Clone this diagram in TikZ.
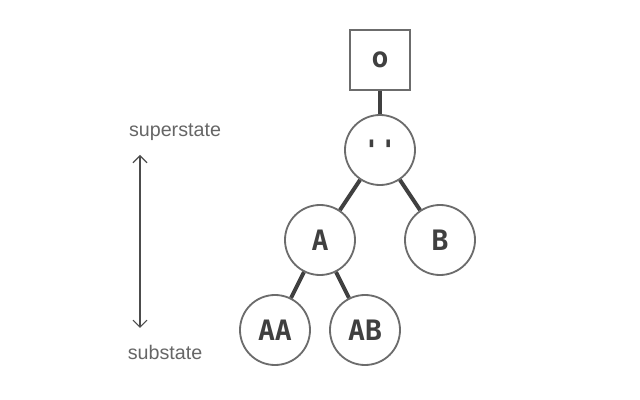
\documentclass[tikz,border=0pt]{standalone}
\usepackage{fontspec}
\setmainfont{Liberation Sans}
\setmonofont{DejaVu Sans Mono}
\usetikzlibrary{arrows.meta}

\begin{document}
\begin{tikzpicture}[x=0.025cm, y=-0.025cm,
		statenode/.style={draw=gray!85!black, line width=1.3pt, fill=white, circle, minimum size=1.75cm, inner sep=0pt, font=\ttfamily\bfseries\fontsize{20}{20}\selectfont, text=black!75},
		topnode/.style={draw=gray!85!black, line width=1.3pt, fill=white, rectangle, minimum size=1.5cm, inner sep=0pt, font=\ttfamily\bfseries\fontsize{20}{20}\selectfont, text=black!75},
		link/.style={line width=2.8pt, draw=black!75},
		sidetext/.style={font=\fontsize{14}{14}\selectfont, text=black!60}]
			\useasboundingbox (0,0) rectangle (640,400);

			\node[topnode] (o) at (380,60) {o};
			\node[statenode] (root) at (380,150) {''};
			\node[statenode] (a) at (320,240) {A};
			\node[statenode] (b) at (440,240) {B};
			\node[statenode] (aa) at (275,330) {AA};
			\node[statenode] (ab) at (365,330) {AB};

			\begin{scope}[on background layer/.try]
			\draw[link] (o) -- (root);
			\draw[link] (root) -- (a);
			\draw[link] (root) -- (b);
			\draw[link] (a) -- (aa);
			\draw[link] (a) -- (ab);
			\end{scope}

			\node[sidetext] (sup) at (175,132) {superstate};
			\node[sidetext] (sub) at (165,352) {substate};
			\coordinate (top) at (140,155);
			\coordinate (bot) at (140,328);
			\draw[{Straight Barb[length=5pt]}-{Straight Barb[length=5pt]}, black!70, line width=0.8pt] (top) -- (bot);
		\end{tikzpicture}
\end{document}
